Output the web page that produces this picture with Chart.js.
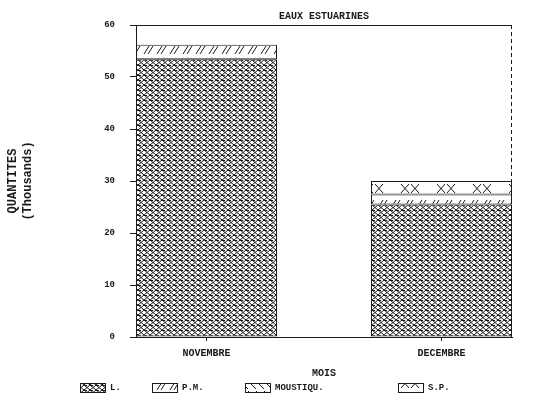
<!DOCTYPE html>
<html>
<head>
<meta charset="utf-8">
<script src="https://cdn.jsdelivr.net/npm/chart.js@4.4.1/dist/chart.umd.min.js"></script>
<style>
  html, body { margin: 0; padding: 0; background: #fff; }
</style>
</head>
<body>
<canvas id="chart" width="550" height="402"></canvas>
<script>
// ── Data ─────────────────────────────────────────────────────────────────────
const months      = ['NOVEMBRE', 'DECEMBRE'];
const seriesNames = ['L.', 'P.M.', 'MOUSTIQU.', 'S.P.'];
const valL        = [53.4, 25.5];
const valPM       = [2.8, 1.9];
const valMoust    = [0, 0];
const valSP       = [0, 2.6];
const yTicks      = [0, 10, 20, 30, 40, 50, 60];
const chartTitle  = 'EAUX ESTUARINES';

const INK  = '#1a1a1a';
const MONO = '"Liberation Mono", "DejaVu Sans Mono", monospace';

// ── Hatch patterns (black on white, like the old plotter output) ─────────────
function makePattern(w, h, draw) {
  const c = document.createElement('canvas');
  c.width = w; c.height = h;
  const g = c.getContext('2d');
  g.fillStyle = '#fff'; g.fillRect(0, 0, w, h);
  g.strokeStyle = INK; g.lineWidth = 1;
  draw(g);
  return g.createPattern(c, 'repeat');
}

const patL = makePattern(6, 5, g => {
  g.beginPath();
  g.moveTo(0, 0); g.lineTo(6, 5);
  g.moveTo(6, 0); g.lineTo(0, 5);
  g.moveTo(0, 0.5); g.lineTo(3, 0.5);
  g.stroke();
});
const patPM = makePattern(13, 14, g => {
  g.beginPath();
  g.moveTo(1, 12); g.lineTo(6, 4);
  g.moveTo(5, 12); g.lineTo(10, 4);
  g.stroke();
});
const patMoust = makePattern(8, 10, g => {
  g.beginPath();
  g.moveTo(0, 1); g.lineTo(8, 9);
  g.stroke();
});
const patSP = makePattern(36, 13, g => {
  g.beginPath();
  [9, 19].forEach(cx => {
    g.moveTo(cx - 4, 2); g.lineTo(cx + 4, 11);
    g.moveTo(cx + 4, 2); g.lineTo(cx - 4, 11);
  });
  g.stroke();
});
const patterns   = [patL, patPM, patMoust, patSP];
const seriesVals = [valL, valPM, valMoust, valSP];

const datasets = seriesNames.map((name, s) => ({
  label: name,
  data: months.map((m, i) => ({ x: i, y: seriesVals[s][i] })),
  backgroundColor: patterns[s],
  borderColor: INK,
  borderWidth: 1,
  borderSkipped: false,
  barPercentage: 0.6,
  categoryPercentage: 1.0
}));

// ── Frame: title over the plot, solid top line, dashed right side ────────────
const framePlugin = {
  id: 'frame',
  afterDraw(chart) {
    const { ctx, chartArea: a } = chart;
    ctx.save();
    ctx.fillStyle = INK;
    ctx.font = 'bold 10px ' + MONO;
    ctx.textAlign = 'center';
    ctx.textBaseline = 'middle';
    ctx.fillText(chartTitle, (a.left + a.right) / 2, 16);

    ctx.strokeStyle = INK;
    ctx.lineWidth = 1;
    ctx.beginPath();
    ctx.moveTo(a.left - 6, a.top + 0.5); ctx.lineTo(a.right, a.top + 0.5);
    ctx.stroke();
    ctx.setLineDash([4, 3]);
    ctx.beginPath();
    ctx.moveTo(a.right - 0.5, a.top); ctx.lineTo(a.right - 0.5, a.bottom);
    ctx.stroke();
    ctx.restore();
  }
};

// ── Legend drawn in fixed columns like the original ──────────────────────────
const legendPlugin = {
  id: 'colLegend',
  afterDraw(chart) {
    const { ctx } = chart;
    const xs = [80, 152, 245, 398];
    const y = 383;
    ctx.save();
    ctx.font = 'bold 9px ' + MONO;
    ctx.textBaseline = 'middle';
    chart.data.datasets.forEach((ds, i) => {
      ctx.fillStyle = ds.backgroundColor;
      ctx.fillRect(xs[i], y, 25, 9);
      ctx.strokeStyle = INK;
      ctx.strokeRect(xs[i] + 0.5, y + 0.5, 25, 9);
      ctx.fillStyle = INK;
      ctx.fillText(ds.label, xs[i] + 30, y + 5);
    });
    ctx.restore();
  }
};

new Chart(document.getElementById('chart'), {
  type: 'bar',
  data: { datasets },
  plugins: [framePlugin, legendPlugin],
  options: {
    responsive: false,
    animation: false,
    layout: { padding: { left: 0, right: 38, top: 25, bottom: 20 } },
    plugins: {
      legend: { display: false },
      tooltip: { enabled: false },
      title: { display: false }
    },
    scales: {
      x: {
        type: 'linear',
        min: -0.3,
        max: 1.3,
        stacked: true,
        offset: false,
        afterBuildTicks: s => { s.ticks = months.map((m, i) => ({ value: i })); },
        afterFit: s => { s.height = 45; },
        ticks: {
          callback: v => months[v],
          color: INK,
          font: { family: MONO, size: 10, weight: 'bold' },
          padding: 6,
          autoSkip: false,
          maxRotation: 0
        },
        grid: { offset: false, drawOnChartArea: false, tickLength: 4, color: INK },
        border: { color: INK, width: 1 },
        title: {
          display: true,
          text: 'MOIS',
          color: INK,
          font: { family: MONO, size: 10, weight: 'bold' },
          padding: { top: 0, bottom: 3 }
        }
      },
      y: {
        min: 0,
        max: 60,
        stacked: true,
        afterBuildTicks: s => { s.ticks = yTicks.map(v => ({ value: v })); },
        afterFit: s => { s.width = 136; },
        ticks: {
          color: INK,
          font: { family: MONO, size: 9, weight: 'bold' },
          padding: 15
        },
        grid: { drawOnChartArea: false, tickLength: 6, color: INK },
        border: { color: INK, width: 1, dash: [4, 3] },
        title: {
          display: true,
          text: ['QUANTITES', '(Thousands)'],
          color: INK,
          font: { family: MONO, size: 12, weight: 'bold' },
          padding: { top: 6, bottom: 0 }
        }
      }
    }
  }
});
</script>
</body>
</html>
